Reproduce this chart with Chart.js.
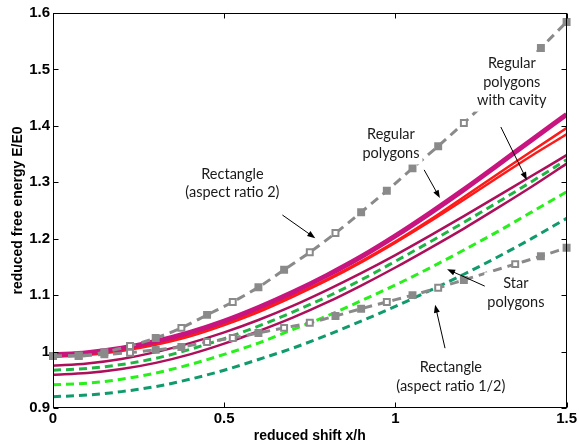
<!DOCTYPE html>
<html>
<head>
<meta charset="utf-8">
<script src="https://cdn.jsdelivr.net/npm/chart.js@4.4.1/dist/chart.umd.min.js"></script>
<style>
  html, body { margin: 0; padding: 0; background: #fff; }
</style>
</head>
<body>
<canvas id="chart" width="579" height="445"></canvas>
<script>
// x positions of the smooth curves and of the marked rectangle curves
const xCurve = [0, 0.1, 0.2, 0.3, 0.4, 0.5, 0.6, 0.7, 0.8, 0.9, 1.0, 1.1, 1.2, 1.3, 1.4, 1.5];
const xRect = [0, 0.075, 0.15, 0.225, 0.3, 0.375, 0.45, 0.525, 0.6, 0.675, 0.75, 0.825, 0.9, 0.975, 1.05, 1.125, 1.2, 1.275, 1.35, 1.425, 1.5];

// regular polygons (solid)
const polyThick = [0.994, 0.998, 1.006, 1.018, 1.034, 1.054, 1.078, 1.105, 1.135, 1.168, 1.205, 1.245, 1.287, 1.331, 1.376, 1.420];
const polyRedA = [0.993, 0.996, 1.003, 1.014, 1.029, 1.049, 1.072, 1.099, 1.128, 1.160, 1.195, 1.233, 1.274, 1.315, 1.356, 1.396];
const polyRedB = [0.991, 0.994, 1.001, 1.012, 1.027, 1.047, 1.070, 1.097, 1.126, 1.158, 1.193, 1.230, 1.269, 1.309, 1.348, 1.385];
// regular polygons with cavity (solid, dark red)
const cavityUp = [0.975, 0.979, 0.987, 0.999, 1.015, 1.034, 1.056, 1.081, 1.109, 1.139, 1.171, 1.205, 1.240, 1.276, 1.312, 1.348];
const cavityLow = [0.959, 0.962, 0.969, 0.980, 0.995, 1.014, 1.036, 1.060, 1.087, 1.117, 1.149, 1.183, 1.218, 1.255, 1.293, 1.333];
// star polygons (dashed)
const starGreen = [0.967, 0.970, 0.977, 0.988, 1.004, 1.023, 1.045, 1.070, 1.097, 1.127, 1.160, 1.194, 1.229, 1.265, 1.302, 1.340];
const starLime = [0.941, 0.944, 0.951, 0.962, 0.977, 0.995, 1.015, 1.039, 1.063, 1.090, 1.118, 1.148, 1.180, 1.213, 1.248, 1.283];
const starTeal = [0.920, 0.923, 0.929, 0.938, 0.951, 0.967, 0.986, 1.006, 1.029, 1.054, 1.080, 1.108, 1.137, 1.168, 1.201, 1.236];
// rectangles (grey dashed, markers)
const rect2 = [0.992, 0.992, 0.999, 1.010, 1.024, 1.042, 1.065, 1.088, 1.114, 1.145, 1.176, 1.210, 1.247, 1.285, 1.325, 1.364, 1.405, 1.448, 1.490, 1.538, 1.584];
const rectHalf = [0.992, 0.993, 0.995, 0.998, 1.003, 1.008, 1.017, 1.024, 1.033, 1.042, 1.051, 1.063, 1.076, 1.088, 1.100, 1.113, 1.127, 1.141, 1.155, 1.169, 1.184];
const rect2Open = [3, 5, 7, 10, 11, 16];
const rectHalfOpen = [3, 6, 7, 9, 10, 13, 15, 18];
const rectHalfHidden = [17];

const yTicks = [0.9, 1.0, 1.1, 1.2, 1.3, 1.4, 1.5, 1.6];
const xTicks = [0, 0.5, 1, 1.5];

const notes = [
  { x: 0.524, y: 1.298, lines: ['Rectangle', '(aspect ratio 2)'], from: [0.670, 1.242], to: [0.766, 1.201] },
  { x: 0.987, y: 1.368, lines: ['Regular', 'polygons'], from: [1.084, 1.322], to: [1.130, 1.272] },
  { x: 1.340, y: 1.478, lines: ['Regular', 'polygons', 'with cavity'], from: [1.308, 1.398], to: [1.384, 1.304] },
  { x: 1.352, y: 1.104, lines: ['Star', 'polygons'], from: [1.261, 1.116], to: [1.151, 1.146] },
  { x: 1.162, y: 0.955, lines: ['Rectangle', '(aspect ratio 1/2)'], from: [1.145, 1.006], to: [1.116, 1.083] }
];

const GREY = '#8a8a8a';
const pts = (xs, ys) => xs.map((x, i) => ({ x: x, y: ys[i] }));

function solid(data, color, width) {
  return { data: pts(xCurve, data), borderColor: color, borderWidth: width, pointRadius: 0,
           cubicInterpolationMode: 'monotone', fill: false };
}
function dashed(data, color) {
  return { data: pts(xCurve, data), borderColor: color, borderWidth: 3, borderDash: [8, 5], pointRadius: 0,
           cubicInterpolationMode: 'monotone', fill: false };
}
function marked(data, open, hidden) {
  return {
    data: pts(xRect, data), borderColor: GREY, borderWidth: 3, borderDash: [9, 6],
    cubicInterpolationMode: 'monotone', fill: false, clip: false,
    pointStyle: 'rect',
    pointRadius: data.map((v, i) => hidden.includes(i) ? 0 : 4.2),
    pointBorderColor: GREY, pointBorderWidth: 2,
    pointBackgroundColor: data.map((v, i) => open.includes(i) ? '#ffffff' : GREY)
  };
}

const datasets = [
  marked(rect2, rect2Open, []),
  marked(rectHalf, rectHalfOpen, rectHalfHidden),
  solid(polyThick, '#c8147e', 5),
  solid(polyRedA, '#ff1a1a', 2.5),
  solid(polyRedB, '#ff1a1a', 2.5),
  solid(cavityUp, '#ad0f5a', 2.5),
  dashed(starGreen, '#1fb545'),
  solid(cavityLow, '#ad0f5a', 2.5),
  dashed(starLime, '#28f01a'),
  dashed(starTeal, '#119a6c')
];

const notesPlugin = {
  id: 'notes',
  afterDatasetsDraw(chart) {
    const { ctx, scales: { x, y } } = chart;
    ctx.save();
    ctx.font = '14.5px Lato';
    const lh = 18.5;
    notes.forEach(n => {
      const cx = x.getPixelForValue(n.x), cy = y.getPixelForValue(n.y);
      const w = Math.max(...n.lines.map(t => ctx.measureText(t).width));
      const h = n.lines.length * lh;
      ctx.fillStyle = '#fff';
      ctx.fillRect(cx - w / 2 - 3, cy - h / 2 - 2, w + 6, h + 4);
      ctx.fillStyle = '#1a1a1a';
      ctx.textAlign = 'center';
      ctx.textBaseline = 'middle';
      n.lines.forEach((t, i) => ctx.fillText(t, cx, cy - h / 2 + lh * (i + 0.5)));

      const x0 = x.getPixelForValue(n.from[0]), y0 = y.getPixelForValue(n.from[1]);
      const x1 = x.getPixelForValue(n.to[0]), y1 = y.getPixelForValue(n.to[1]);
      const ang = Math.atan2(y1 - y0, x1 - x0);
      ctx.strokeStyle = '#000'; ctx.lineWidth = 1;
      ctx.beginPath(); ctx.moveTo(x0, y0); ctx.lineTo(x1 - 5 * Math.cos(ang), y1 - 5 * Math.sin(ang)); ctx.stroke();
      ctx.fillStyle = '#000';
      ctx.beginPath();
      ctx.moveTo(x1, y1);
      ctx.lineTo(x1 - 8 * Math.cos(ang) + 3 * Math.sin(ang), y1 - 8 * Math.sin(ang) - 3 * Math.cos(ang));
      ctx.lineTo(x1 - 8 * Math.cos(ang) - 3 * Math.sin(ang), y1 - 8 * Math.sin(ang) + 3 * Math.cos(ang));
      ctx.closePath(); ctx.fill();
    });
    ctx.restore();
  }
};

// box round the plot with ticks pointing inwards on all four sides
const framePlugin = {
  id: 'frame',
  afterDraw(chart) {
    const { ctx, chartArea: a, scales: { x, y } } = chart;
    const L = Math.round(a.left) + 0.5, R = Math.round(a.right) - 0.5;
    const T = Math.round(a.top) + 0.5, B = Math.round(a.bottom) - 0.5;
    ctx.save();
    ctx.strokeStyle = '#000'; ctx.lineWidth = 1;
    ctx.strokeRect(L, T, R - L, B - T);
    ctx.beginPath();
    yTicks.forEach(v => {
      const p = Math.round(y.getPixelForValue(v)) + 0.5;
      ctx.moveTo(L, p); ctx.lineTo(L + 5, p);
      ctx.moveTo(R, p); ctx.lineTo(R - 5, p);
    });
    xTicks.forEach(v => {
      const p = Math.round(x.getPixelForValue(v)) + 0.5;
      ctx.moveTo(p, B); ctx.lineTo(p, B - 5);
      ctx.moveTo(p, T); ctx.lineTo(p, T + 5);
    });
    ctx.stroke();
    ctx.restore();
  }
};

const tickFont = { family: '"Liberation Sans", Arial, sans-serif', size: 15, weight: 'bold' };
const titleFont = { family: '"Liberation Sans", Arial, sans-serif', size: 14, weight: 'bold' };

new Chart(document.getElementById('chart'), {
  type: 'line',
  data: { datasets: datasets },
  options: {
    responsive: false,
    animation: false,
    devicePixelRatio: 1,
    layout: { padding: { top: 13, right: 11, left: 0, bottom: 0 } },
    plugins: { legend: { display: false }, tooltip: { enabled: false } },
    scales: {
      x: {
        type: 'linear', min: 0, max: 1.5,
        afterBuildTicks: s => { s.ticks = xTicks.map(v => ({ value: v })); },
        afterFit: s => { s.height = 37; },
        grid: { display: false, drawTicks: false },
        border: { display: false },
        ticks: { font: tickFont, color: '#000', padding: 2, autoSkip: false, maxRotation: 0,
                 callback: v => String(Number(v.toFixed(1))) },
        title: { display: true, text: 'reduced shift x/h', font: titleFont, color: '#000', padding: { top: 0, bottom: 0 } }
      },
      y: {
        type: 'linear', min: 0.9, max: 1.6,
        afterBuildTicks: s => { s.ticks = yTicks.map(v => ({ value: v })); },
        afterFit: s => { s.width = 53; },
        grid: { display: false, drawTicks: false },
        border: { display: false },
        ticks: { font: tickFont, color: '#000', padding: 3, autoSkip: false,
                 callback: v => String(Number(v.toFixed(1))) },
        title: { display: true, text: 'reduced free energy E/E0', font: titleFont, color: '#000', padding: { top: 10, bottom: 0 } }
      }
    }
  },
  plugins: [notesPlugin, framePlugin]
});
</script>
</body>
</html>
